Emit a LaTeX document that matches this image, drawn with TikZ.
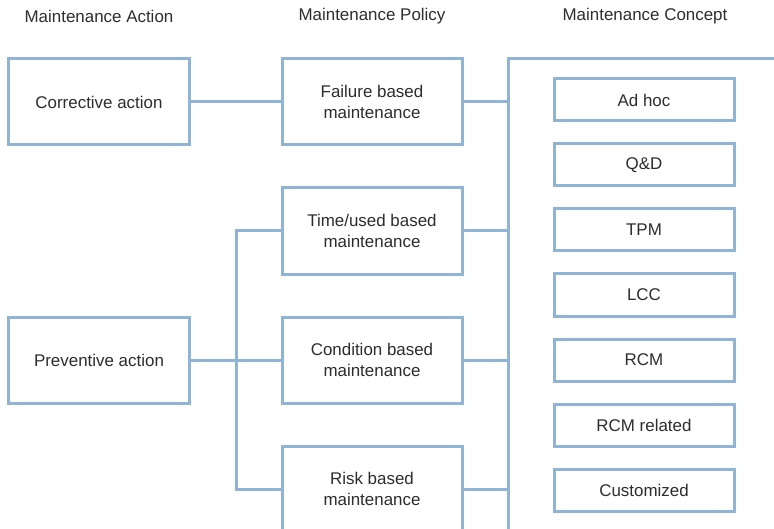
\documentclass[tikz,border=0pt]{standalone}
\usepackage{fontspec}
\setmainfont{Liberation Sans}
\begin{document}
\begin{tikzpicture}[x=1bp,y=-1bp,
  line width=3bp,
  lnk/.style={draw=boxblue},
  bigbox/.style={draw=boxblue,fill=white,minimum width=180bp,minimum height=86bp,align=center,inner sep=0pt,text=txt,font=\fontsize{17}{21}\selectfont},
  smallbox/.style={draw=boxblue,fill=white,minimum width=180bp,minimum height=42bp,align=center,inner sep=0pt,text=txt,font=\fontsize{17}{21}\selectfont},
  header/.style={text=txt,font=\fontsize{17}{21}\selectfont,inner sep=0pt}]
\definecolor{boxblue}{RGB}{143,180,214}
\definecolor{txt}{RGB}{45,45,45}
\useasboundingbox (0,0) rectangle (774,529);
\clip (0,0) rectangle (774,529);
% headers
\node[header] (h1) at (99,16) {Maintenance Action};
\node[header] (h2) at (372,16) {Maintenance Policy};
\node[header] (h3) at (645,16) {Maintenance Concept};
% concept frame
\coordinate (fbot) at (508,545);
\coordinate (ftl) at (508,59);
\coordinate (fright) at (790,59);
\draw[lnk] (fbot) -- (ftl) -- (fright);
% action boxes
\node[bigbox] (corr) at (99,102) {Corrective action};
\node[bigbox] (prev) at (99,360) {Preventive action};
% policy boxes
\node[bigbox] (fail) at (372,102) {Failure based\\maintenance};
\node[bigbox] (time) at (372,231) {Time/used based\\maintenance};
\node[bigbox] (cond) at (372,360) {Condition based\\maintenance};
\node[bigbox] (risk) at (372,489) {Risk based\\maintenance};
% concept boxes
\node[smallbox] (c1) at (644,100) {Ad hoc};
\node[smallbox] (c2) at (644,165) {Q\&D};
\node[smallbox] (c3) at (644,230) {TPM};
\node[smallbox] (c4) at (644,295) {LCC};
\node[smallbox] (c5) at (644,360) {RCM};
\node[smallbox] (c6) at (644,425) {RCM related};
\node[smallbox] (c7) at (644,490) {Customized};
% connectors
\draw[lnk] (corr.east) -- (fail.west);
\draw[lnk] (prev.east) -- (cond.west);
\coordinate (busTop) at (236,231);
\draw[lnk] (time.west) -- (busTop) |- (risk.west);
\draw[lnk] (fail.east) -- (fail.east -| ftl);
\draw[lnk] (time.east) -- (time.east -| ftl);
\draw[lnk] (cond.east) -- (cond.east -| ftl);
\draw[lnk] (risk.east) -- (risk.east -| ftl);
\end{tikzpicture}
\end{document}
